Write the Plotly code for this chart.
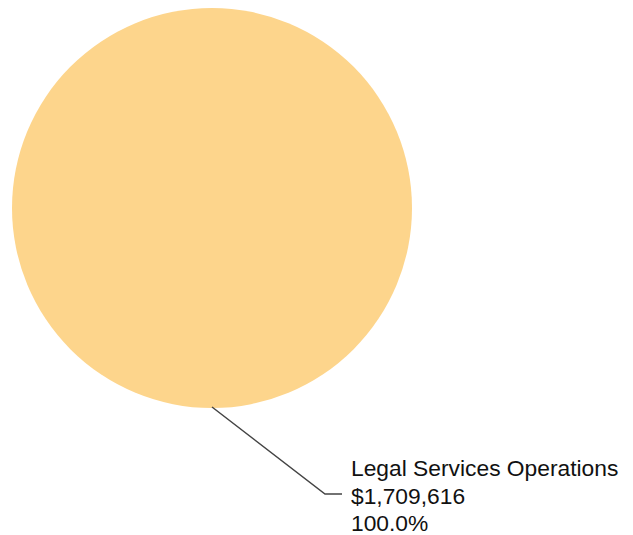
import plotly.graph_objects as go

labels = ["Legal Services Operations"]
values = [1709616]
colors = ["#FDD58C"]

W, H = 633, 535
OFF = 8  # page body margin

def px(x, y):
    return (x - OFF) / W, 1 - (y - OFF) / H

dx0, _ = px(12, 7)
dx1, _ = px(412, 407)
fig = go.Figure(go.Pie(
    labels=labels, values=values, marker=dict(colors=colors, line=dict(width=0)),
    textinfo="none", hoverinfo="label+value+percent", sort=False,
    domain=dict(x=[dx0, dx1], y=[1 - 400 / H, 1]),
    showlegend=False,
))

total = sum(values)
lines = [labels[0], f"${values[0]:,}", f"{values[0] / total * 100:.1f}%"]

x0, y0 = px(212, 407)
x1, y1 = px(325, 494)
x2, y2 = px(342, 494)
fig.add_shape(type="path", xref="paper", yref="paper",
              path=f"M {x0} {y0} L {x1} {y1} L {x2} {y2}",
              line=dict(color="#444444", width=1.5))

centers = [468, 495.5, 523]
for t, cy in zip(lines, centers):
    ax, ay = px(349, cy)
    fig.add_annotation(x=ax, y=ay, xref="paper", yref="paper", text=t,
                       showarrow=False, xanchor="left", yanchor="middle", align="left",
                       font=dict(family="Liberation Sans, Arial", size=22.8, color="#111111"))

fig.update_layout(width=W, height=H, margin=dict(l=0, r=0, t=0, b=0),
                  paper_bgcolor="white", plot_bgcolor="white")
fig.write_html("out.html")
